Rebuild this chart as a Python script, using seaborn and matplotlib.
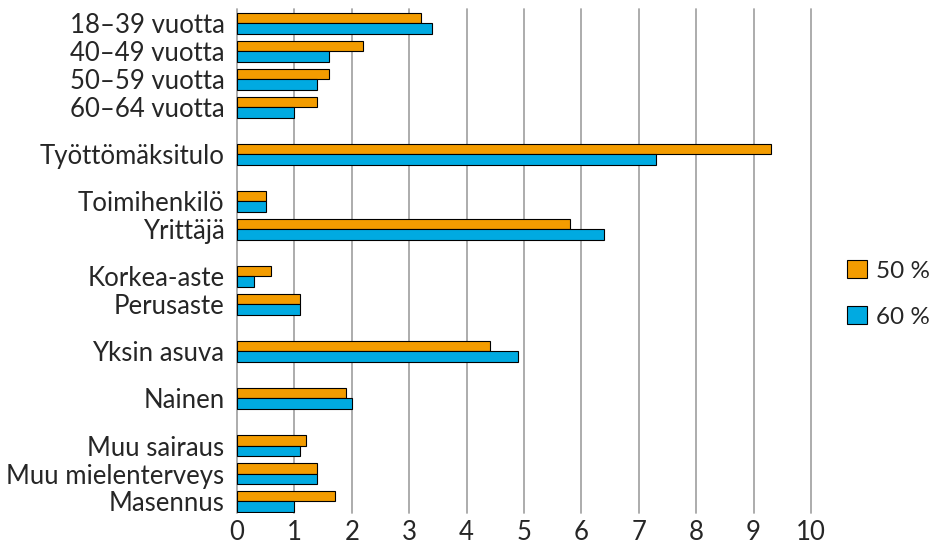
import matplotlib
matplotlib.use("Agg")
import matplotlib.pyplot as plt
import seaborn as sns
import pandas as pd
from matplotlib.patches import Patch

# Data (groups separated by blank gaps)
groups = [
    ["18–39 vuotta", "40–49 vuotta", "50–59 vuotta", "60–64 vuotta"],
    ["Työttömäksitulo"],
    ["Toimihenkilö", "Yrittäjä"],
    ["Korkea-aste", "Perusaste"],
    ["Yksin asuva"],
    ["Nainen"],
    ["Muu sairaus", "Muu mielenterveys", "Masennus"],
]
series_names = ["50 %", "60 %"]
values_50 = [3.2, 2.2, 1.6, 1.4, 9.3, 0.5, 5.8, 0.6, 1.1, 4.4, 1.9, 1.2, 1.4, 1.7]
values_60 = [3.4, 1.6, 1.4, 1.0, 7.3, 0.5, 6.4, 0.3, 1.1, 4.9, 2.0, 1.1, 1.4, 1.0]
x_ticks = list(range(0, 11))

colors = ["#F39C00", "#00AAE1"]
GAP = 0.68

# positions
labels, positions = [], []
pos = 0.0
for gi, g in enumerate(groups):
    if gi > 0:
        pos += GAP
    for lab in g:
        labels.append(lab)
        positions.append(pos)
        pos += 1
rows = []
for lab, p, a, b in zip(labels, positions, values_50, values_60):
    rows.append({"label": lab, "pos": p, "value": a, "series": series_names[0]})
    rows.append({"label": lab, "pos": p, "value": b, "series": series_names[1]})
df = pd.DataFrame(rows)

sns.set_style("white")
plt.rcParams["font.family"] = ["Lato", "DejaVu Sans"]

FS = 18.5
fig = plt.figure(figsize=(9.3, 5.47), dpi=100)
ax = fig.add_axes([0.2548, 0.0622, 0.872 - 0.2548, 0.9835 - 0.0622])

sns.barplot(data=df, x="value", y="pos", hue="series", orient="h",
            native_scale=True, dodge=True, width=0.76, saturation=1,
            palette=colors, hue_order=series_names,
            edgecolor="black", linewidth=0.8, ax=ax, legend=False)

ax.set_xlim(0, 10)
ax.set_ylim(positions[-1] + 0.41, positions[0] - 0.51)
ax.set_yticks(positions)
ax.set_yticklabels(labels, fontsize=FS)
ax.set_xticks(x_ticks)
ax.set_xticklabels([str(t) for t in x_ticks], fontsize=FS)
ax.tick_params(axis="y", length=0, pad=9)
ax.tick_params(axis="x", length=0, pad=5)
ax.set_xlabel("")
ax.set_ylabel("")
for s in ax.spines.values():
    s.set_visible(False)
ax.xaxis.grid(True, color="#A6A6A6", linewidth=1.3)
ax.yaxis.grid(False)
ax.set_axisbelow(True)
for gl in ax.get_xgridlines():
    gl.set_clip_on(False)

handles = [Patch(facecolor=c, edgecolor="black", linewidth=0.8) for c in colors]
fig.legend(handles, series_names, loc="center left", bbox_to_anchor=(0.911, 0.463),
           frameon=False, fontsize=17.5, handlelength=0.8, handleheight=0.8,
           handletextpad=0.4, labelspacing=1.0, borderaxespad=0, borderpad=0)

fig.savefig("out.png", dpi=100)
